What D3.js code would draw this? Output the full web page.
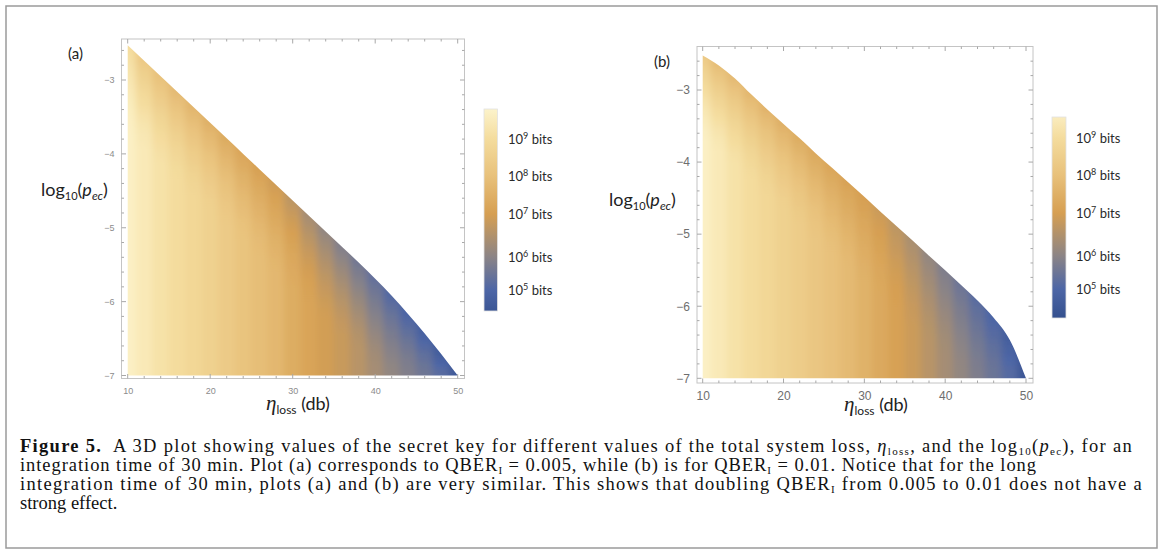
<!DOCTYPE html>
<html>
<head>
<meta charset="utf-8">
<script src="https://cdn.jsdelivr.net/npm/d3@7"></script>
<style>
  body { margin: 0; background: #fff; }
  svg { display: block; }
</style>
</head>
<body>
<svg id="fig" width="1163" height="552"></svg>
<script>
// total system loss (dB) at which the columns are read
const lossDb = [10,12,14,16,18,20,22,24,26,28,30,32,34,36,38,40,42,44,46,48,50];

// panel (a), QBER_I = 0.005 : upper edge of the key region, log10(key) at the bottom row and along the edge
const edgeA      = [-2.53,-2.74,-2.95,-3.16,-3.37,-3.58,-3.79,-4.00,-4.21,-4.42,-4.63,-4.84,-5.05,-5.26,-5.47,-5.69,-5.92,-6.17,-6.43,-6.71,-7.0];
const keyBottomA = [9.7,9.45,9.2,9.0,8.8,8.6,8.35,8.1,7.9,7.7,7.4,7.15,6.95,6.8,6.6,6.35,6.1,5.85,5.55,5.2,4.8];
const keyEdgeA   = [9.0,8.3,8.0,7.8,7.65,7.5,7.35,7.2,7.05,6.9,6.65,6.35,6.1,5.85,5.6,5.35,5.1,4.95,4.8,4.65,4.5];

// panel (b), QBER_I = 0.01
const edgeB      = [-2.52,-2.66,-2.84,-3.06,-3.27,-3.47,-3.67,-3.88,-4.08,-4.28,-4.48,-4.69,-4.89,-5.09,-5.30,-5.50,-5.71,-5.92,-6.16,-6.47,-7.0];
const keyBottomB = [9.7,9.45,9.2,9.0,8.8,8.6,8.4,8.2,8.0,7.8,7.55,7.3,7.05,6.85,6.6,6.35,6.1,5.8,5.5,5.15,4.6];
const keyEdgeB   = [8.3,7.9,7.8,7.7,7.6,7.5,7.4,7.3,7.2,7.1,7.0,6.85,6.65,6.4,6.1,5.8,5.5,5.2,4.95,4.7,4.4];

const xTicks = [10,20,30,40,50];
const yTicks = [-7,-6,-5,-4,-3];
const legendExp = [5,6,7,8,9];

// colour function, log10(bits) -> colour
const colorKeys = [4.1, 5, 6, 7, 8, 9, 9.8];
const colorHex  = ['#34508e','#4d66a6','#8b8486','#d69f52','#e8c17b','#f4dc9d','#fcf3cb'];
const color = d3.scaleLinear().domain(colorKeys).range(colorHex).interpolate(d3.interpolateRgb).clamp(true);

const captionLines = [
  [['Figure 5.','b'],['  A 3D plot showing values of the secret key for different values of the total system loss, '],['η','i'],['loss','sub'],[', and the log'],['10','sub'],['('],['p','i'],['ec','sub'],['), for an']],
  [['integration time of 30 min. Plot (a) corresponds to QBER'],['I','sub'],[' = 0.005, while (b) is for QBER'],['I','sub'],[' = 0.01. Notice that for the long']],
  [['integration time of 30 min, plots (a) and (b) are very similar. This shows that doubling QBER'],['I','sub'],[' from 0.005 to 0.01 does not have a']],
  [['strong effect.']]
];
const captionWidth = [1113, 1017, 1123, null];

const panels = [
  {id: 'a', tag: '(a)', edge: edgeA, bottom: keyBottomA, top: keyEdgeA,
   xr: [127.7, 457.7], yr: [375.5, 80], frame: [121.5, 39, 464.5, 378.5],
   tickFont: 9, tickFill: '#8c8c8c', xPad: 9, yPad: 7,
   tagPos: [68, 59], yLab: [41, 196], xLab: [298, 410],
   legend: {x: 484, w: 13.5, keys: [4.36,5,6,7,8,9,9.8], ys: [311,290,257,214,176,139,109], labelX: 508}},
  {id: 'b', tag: '(b)', edge: edgeB, bottom: keyBottomB, top: keyEdgeB,
   xr: [702.7, 1026], yr: [378.3, 90], frame: [697, 46.5, 1033, 383],
   tickFont: 12, tickFill: '#6e6e6e', xPad: 8, yPad: 7,
   tagPos: [654, 67], yLab: [609, 206], xLab: [876, 411],
   legend: {x: 1052, w: 14, keys: [4.1,5,6,7,8,9,9.57], ys: [318,289,256,213,175,138,117], labelX: 1076}}
];

const svg = d3.select('#fig');
const defs = svg.append('defs');

// outer figure box
svg.append('rect').attr('x', 6).attr('y', 6).attr('width', 1151).attr('height', 542)
  .attr('fill', 'none').attr('stroke', '#9a9a9a').attr('stroke-width', 1.5);

defs.append('filter').attr('id', 'hblur')
  .attr('x', '-5%').attr('y', '-5%').attr('width', '110%').attr('height', '110%')
  .append('feGaussianBlur').attr('stdDeviation', '3.5 0');

function drawPanel(p) {
  const x = d3.scaleLinear().domain([10, 50]).range(p.xr);
  const y = d3.scaleLinear().domain([-7, -3]).range(p.yr);
  const [fx0, fy0, fx1, fy1] = p.frame;
  const g = svg.append('g');

  // key region
  const area = d3.area().curve(d3.curveMonotoneX)
    .x((d, i) => x(lossDb[i])).y0(y(-7)).y1(d => y(d));
  defs.append('clipPath').attr('id', 'clip' + p.id)
    .append('path').attr('d', area(p.edge));

  const cols = g.append('g').attr('clip-path', 'url(#clip' + p.id + ')')
    .append('g').attr('filter', 'url(#hblur)');

  lossDb.forEach((L, i) => {
    const b = p.edge[i], kb = p.bottom[i], ke = p.top[i];
    const knee = Math.max(b - 1.2, -7);
    const off = v => (v + 7) / (b + 7);
    const grad = defs.append('linearGradient').attr('id', 'col' + p.id + i)
      .attr('gradientUnits', 'userSpaceOnUse')
      .attr('x1', 0).attr('x2', 0).attr('y1', y(-7)).attr('y2', y(b));
    grad.append('stop').attr('offset', 0).attr('stop-color', color(kb));
    d3.range(0, 1.0001, 0.125).forEach(t => {
      const v = knee + (b - knee) * t;
      grad.append('stop').attr('offset', off(v))
        .attr('stop-color', color(kb + (ke - kb) * Math.pow(t, 1.5)));
    });
    const lo = i === 0 ? L - 3 : L - 1.05;
    const hi = i === lossDb.length - 1 ? L + 3 : L + 1.05;
    cols.append('rect')
      .attr('x', x(lo)).attr('width', x(hi) - x(lo))
      .attr('y', y(-2.2)).attr('height', y(-7.2) - y(-2.2))
      .attr('fill', 'url(#col' + p.id + i + ')');
  });

  // frame with inward ticks
  g.append('rect').attr('x', fx0).attr('y', fy0).attr('width', fx1 - fx0).attr('height', fy1 - fy0)
    .attr('fill', 'none').attr('stroke', '#c4c4c4').attr('stroke-width', 1);
  const tk = g.append('g').attr('stroke', '#a8a8a8').attr('stroke-width', 1);
  d3.range(10, 50.01, 2).forEach(v => {
    const len = v % 10 === 0 ? 4.5 : 2.5;
    tk.append('line').attr('x1', x(v)).attr('x2', x(v)).attr('y1', fy1).attr('y2', fy1 - len);
    tk.append('line').attr('x1', x(v)).attr('x2', x(v)).attr('y1', fy0).attr('y2', fy0 + len);
  });
  d3.range(-7, -2.3, 0.2).map(v => Math.round(v * 10) / 10).filter(v => y(v) > fy0 + 1).forEach(v => {
    const len = Number.isInteger(v) ? 4.5 : 2.5;
    tk.append('line').attr('y1', y(v)).attr('y2', y(v)).attr('x1', fx0).attr('x2', fx0 + len);
    tk.append('line').attr('y1', y(v)).attr('y2', y(v)).attr('x1', fx1).attr('x2', fx1 - len);
  });

  // tick labels
  const ax = g.append('g').attr('transform', 'translate(0,' + fy1 + ')')
    .call(d3.axisBottom(x).tickValues(xTicks).tickFormat(d3.format('d')).tickSize(0).tickPadding(p.xPad));
  const ay = g.append('g').attr('transform', 'translate(' + fx0 + ',0)')
    .call(d3.axisLeft(y).tickValues(yTicks).tickFormat(d3.format('d')).tickSize(0).tickPadding(p.yPad));
  [ax, ay].forEach(a => {
    a.select('.domain').remove();
    a.selectAll('text').attr('font-family', 'Liberation Sans, Arial, sans-serif')
      .attr('font-size', p.tickFont).attr('fill', p.tickFill);
  });

  // panel tag
  g.append('text').attr('x', p.tagPos[0]).attr('y', p.tagPos[1]).text(p.tag)
    .attr('font-family', 'Lato, sans-serif').attr('font-size', 15).attr('fill', '#222');

  // y label  log10(p_ec)
  const yl = g.append('text').attr('x', p.yLab[0]).attr('y', p.yLab[1])
    .attr('font-family', 'Lato, sans-serif').attr('font-size', 18).attr('fill', '#222');
  yl.append('tspan').text('log');
  yl.append('tspan').attr('font-size', 11).attr('dy', 4).text('10');
  yl.append('tspan').attr('dy', -4).text('(');
  yl.append('tspan').attr('font-style', 'italic').text('p');
  yl.append('tspan').attr('font-style', 'italic').attr('font-size', 12).attr('dy', 4).text('ec');
  yl.append('tspan').attr('dy', -4).text(')');

  // x label  eta_loss (db)
  const xl = g.append('text').attr('x', p.xLab[0]).attr('y', p.xLab[1]).attr('text-anchor', 'middle')
    .attr('font-family', 'Lato, sans-serif').attr('font-size', 18).attr('fill', '#222');
  xl.append('tspan').attr('font-family', 'Liberation Serif, serif').attr('font-style', 'italic')
    .attr('font-size', 21).text('η');
  xl.append('tspan').attr('font-size', 12).attr('dy', 4).text('loss');
  xl.append('tspan').attr('dy', -4).text(' (db)');

  // colour legend
  const lg = p.legend;
  const ly = d3.scaleLinear().domain(lg.keys).range(lg.ys);
  const y0 = lg.ys[0], y1 = lg.ys[lg.ys.length - 1];
  const lgrad = defs.append('linearGradient').attr('id', 'leg' + p.id)
    .attr('gradientUnits', 'userSpaceOnUse').attr('x1', 0).attr('x2', 0).attr('y1', y0).attr('y2', y1);
  lg.keys.forEach(k => lgrad.append('stop').attr('offset', (ly(k) - y0) / (y1 - y0)).attr('stop-color', color(k)));
  g.append('rect').attr('x', lg.x).attr('y', y1).attr('width', lg.w).attr('height', y0 - y1)
    .attr('fill', 'url(#leg' + p.id + ')').attr('stroke', '#e2e2e2').attr('stroke-width', 0.8);
  legendExp.forEach(e => {
    const t = g.append('text').attr('x', lg.labelX).attr('y', ly(e)).attr('dy', '0.36em')
      .attr('font-family', 'Lato, sans-serif').attr('font-size', 13).attr('fill', '#2a2a2a');
    t.append('tspan').text('10');
    t.append('tspan').attr('font-size', 9).attr('dy', -5).text(e);
    t.append('tspan').attr('dy', 5).text(' bits');
  });
}

panels.forEach(drawPanel);

// caption
captionLines.forEach((line, li) => {
  const t = svg.append('text').attr('x', 20).attr('y', 452 + li * 19)
    .attr('font-family', 'Liberation Serif, serif').attr('font-size', 18.5).attr('fill', '#111')
    .style('white-space', 'pre');
  let shift = 0;
  line.forEach(([s, st]) => {
    const want = st === 'sub' ? 2.5 : 0;
    const ts = t.append('tspan').text(s);
    if (want !== shift) ts.attr('dy', want - shift);
    shift = want;
    if (st === 'b') ts.attr('font-weight', 'bold');
    if (st === 'i') ts.attr('font-style', 'italic');
    if (st === 'sub') ts.attr('font-size', 11);
  });
  if (captionWidth[li]) {
    const len = t.node().getComputedTextLength();
    const n = line.map(d => d[0]).join('').length;
    t.attr('letter-spacing', (captionWidth[li] - len) / n);
  }
});
</script>
</body>
</html>
